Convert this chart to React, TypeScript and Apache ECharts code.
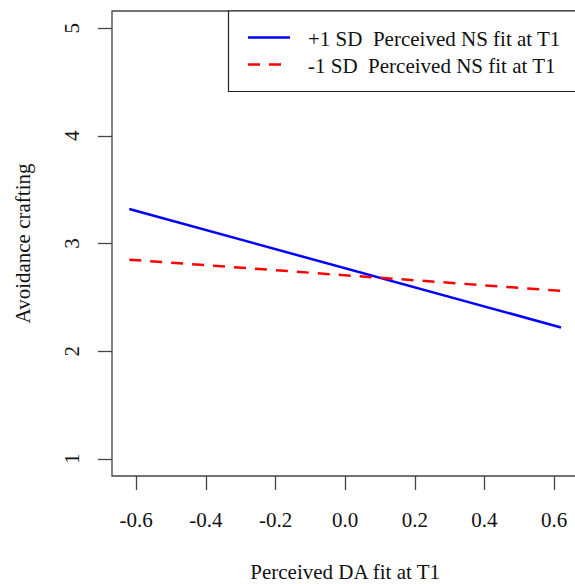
import React, { useEffect, useRef } from "react";
import * as echarts from "echarts";

const xEnds: number[] = [-0.62, 0.62];
const plusOneSD: number[] = [3.32, 2.22];
const minusOneSD: number[] = [2.85, 2.56];
const xTicks: number[] = [-0.6, -0.4, -0.2, 0.0, 0.2, 0.4, 0.6];
const yTicks: number[] = [1, 2, 3, 4, 5];
const seriesNames: string[] = [
  "+1 SD  Perceived NS fit at T1",
  "-1 SD  Perceived NS fit at T1",
];
const xTitle = "Perceived DA fit at T1";
const yTitle = "Avoidance crafting";

const FONT = "Liberation Serif, Times New Roman, serif";

export default function App() {
  const ref = useRef<HTMLDivElement>(null);
  useEffect(() => {
    if (!ref.current) return;
    const chart = echarts.init(ref.current, undefined, { renderer: "svg" });
    const xMin = -0.6696;
    const xMax = 0.6696;
    const labelStyle = {
      fontFamily: FONT,
      fontSize: 21,
      fontWeight: "normal",
      lineHeight: 21,
      color: "#111",
    };
    const option: any = {
      animation: false,
      backgroundColor: "#ffffff",
      textStyle: { fontFamily: FONT, fontWeight: "normal" },
      grid: {
        left: 112,
        top: 11,
        width: 466.3,
        height: 465,
        outerBoundsMode: "none",
        containLabel: false,
        show: true,
        borderColor: "#444",
        borderWidth: 1.3,
        backgroundColor: "transparent",
      },
      xAxis: {
        type: "value",
        min: xMin,
        max: xMax,
        name: xTitle,
        nameLocation: "middle",
        nameGap: 85,
        nameTextStyle: { fontFamily: FONT, fontSize: 21, color: "#111", lineHeight: 21 },
        axisLine: { show: false, onZero: false },
        splitLine: { show: false },
        axisTick: {
          show: true,
          inside: false,
          length: 14,
          customValues: xTicks,
          lineStyle: { color: "#444", width: 1.3 },
        },
        axisLabel: {
          ...labelStyle,
          customValues: xTicks,
          margin: 33,
          formatter: (v: number) => v.toFixed(1),
        },
      },
      yAxis: {
        type: "value",
        min: 0.84,
        max: 5.16,
        name: yTitle,
        nameLocation: "middle",
        nameGap: 79,
        nameTextStyle: { fontFamily: FONT, fontSize: 21, color: "#111", lineHeight: 21 },
        axisLine: { show: false, onZero: false },
        splitLine: { show: false },
        axisTick: {
          show: true,
          inside: false,
          length: 14,
          customValues: yTicks,
          lineStyle: { color: "#444", width: 1.3 },
        },
        axisLabel: {
          ...labelStyle,
          customValues: yTicks,
          rotate: 90,
          margin: 30,
          formatter: (v: number) => String(v),
        },
      },
      series: [
        {
          name: seriesNames[0],
          type: "line",
          symbol: "none",
          data: xEnds.map((x, i) => [x, plusOneSD[i]]),
          lineStyle: { color: "#0000ff", width: 2.5, type: "solid" },
        },
        {
          name: seriesNames[1],
          type: "line",
          symbol: "none",
          data: xEnds.map((x, i) => [x, minusOneSD[i]]),
          lineStyle: { color: "#ff0000", width: 2.5, type: [12, 9] },
        },
      ],
      graphic: [
        {
          type: "rect",
          shape: { x: 228.5, y: 11, width: 400, height: 80.5 },
          style: { fill: "#ffffff", stroke: "#222", lineWidth: 1.2 },
          z: 10,
        },
        {
          type: "line",
          shape: { x1: 248, y1: 37.5, x2: 290, y2: 37.5 },
          style: { stroke: "#0000ff", lineWidth: 2.5 },
          z: 11,
        },
        {
          type: "line",
          shape: { x1: 248, y1: 64.5, x2: 290, y2: 64.5 },
          style: { stroke: "#ff0000", lineWidth: 2.5, lineDash: [12, 9] },
          z: 11,
        },
        {
          type: "text",
          x: 308,
          y: 39,
          style: {
            text: seriesNames[0],
            font: `21px ${FONT}`,
            fill: "#111",
            align: "left",
            verticalAlign: "middle",
          },
          z: 11,
        },
        {
          type: "text",
          x: 308,
          y: 65.5,
          style: {
            text: seriesNames[1],
            font: `21px ${FONT}`,
            fill: "#111",
            align: "left",
            verticalAlign: "middle",
          },
          z: 11,
        },
      ],
    };
    chart.setOption(option);
    return () => chart.dispose();
  }, []);
  return (
    <div
      ref={ref}
      style={{ position: "fixed", left: 0, top: 0, width: 575, height: 584 }}
    />
  );
}
